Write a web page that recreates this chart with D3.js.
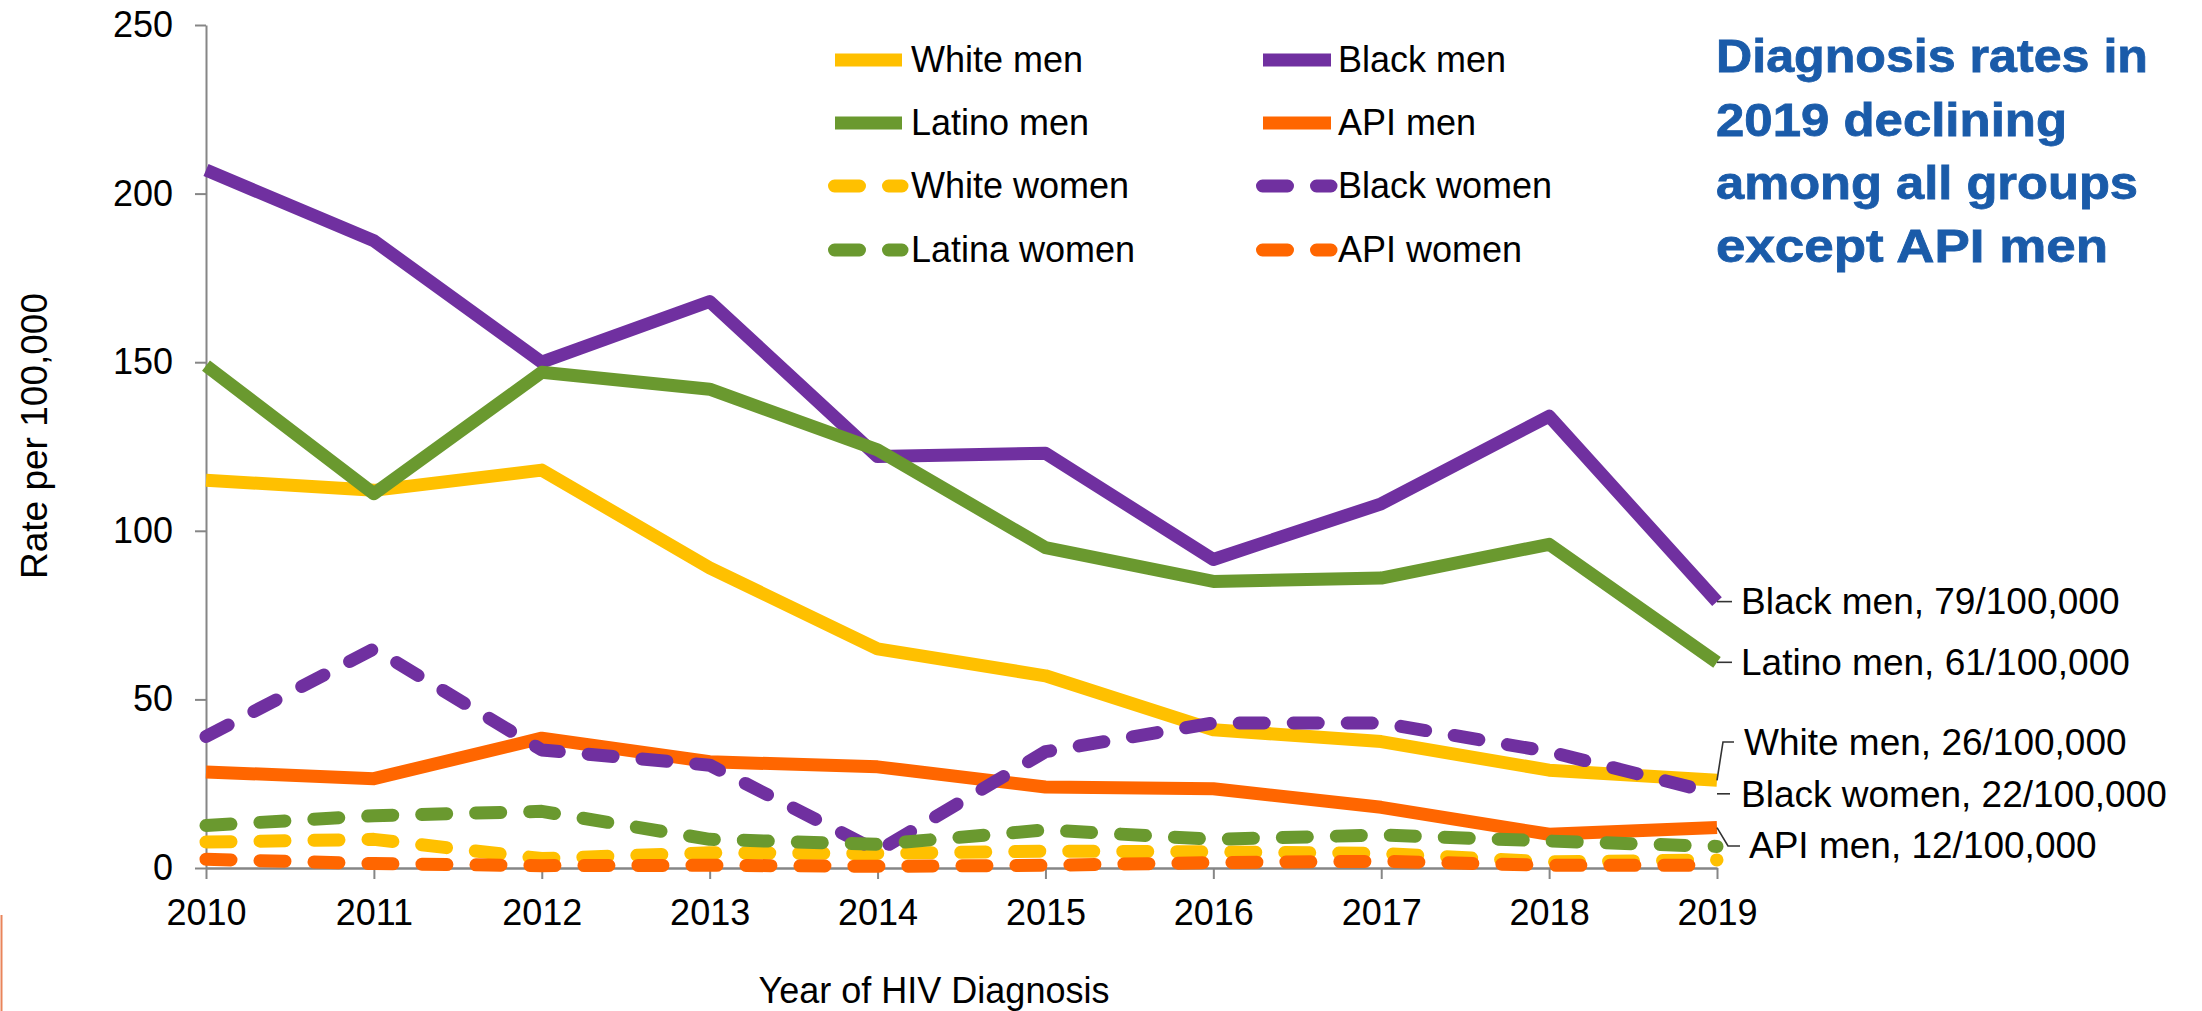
<!DOCTYPE html>
<html><head><meta charset="utf-8">
<script src="https://cdn.jsdelivr.net/npm/d3@7"></script>
<style>
body{margin:0;background:#fff;}
svg{display:block;}
text{font-family:"Liberation Sans",Arial,sans-serif;fill:#000;}
</style>
</head><body>
<svg id="chart" width="2202" height="1011"></svg>
<script>
// ---------- data ----------
const years = [2010, 2011, 2012, 2013, 2014, 2015, 2016, 2017, 2018, 2019];
const whiteMen    = [115, 112, 118, 89, 65, 57, 41, 37.5, 29, 26];
const blackMen    = [207, 186, 150, 168, 122, 123, 91.5, 108, 134, 79];
const latinoMen   = [149, 111, 147, 142, 124, 95, 85, 86, 96, 61];
const apiMen      = [28.5, 26.5, 38.5, 31.5, 30, 24, 23.5, 18, 10, 12];
const whiteWomen  = [7.7, 8.5, 2.8, 4.5, 4.3, 5, 4.8, 4.3, 1.8, 2.4];
const blackWomen  = [39, 65, 35, 30.5, 5, 34.5, 43, 43, 34.5, 22];
const latinaWomen = [12.6, 15.5, 16.8, 8.5, 7, 11.3, 8.5, 9.8, 8, 6.4];
const apiWomen    = [2.6, 1.3, 0.7, 0.8, 0.5, 0.8, 1.6, 2, 0.8, 0.8];

const seriesNames = ["White men", "Black men", "Latino men", "API men",
                     "White women", "Black women", "Latina women", "API women"];
const seriesValues = [whiteMen, blackMen, latinoMen, apiMen,
                      whiteWomen, blackWomen, latinaWomen, apiWomen];
const seriesColors = ["#FFC000", "#7030A0", "#6A992F", "#FF6600",
                      "#FFC000", "#7030A0", "#6A992F", "#FF6600"];
const seriesDashed = [false, false, false, false, true, true, true, true];

const yTicks = [0, 50, 100, 150, 200, 250];
const yTitle = "Rate per 100,000";
const xTitle = "Year of HIV Diagnosis";
const titleLines = ["Diagnosis rates in", "2019 declining", "among all groups", "except API men"];

// end labels: series index + text
const endLabelSeries = [1, 2, 0, 5, 3];
const endLabelTexts = ["Black men, 79/100,000", "Latino men, 61/100,000",
                       "White men, 26/100,000", "Black women, 22/100,000", "API men, 12/100,000"];

// ---------- layout ----------
const svg = d3.select("#chart");
const FS = 36;
const x = d3.scaleLinear().domain([2010, 2019]).range([206, 1717]);
const y = d3.scaleLinear().domain([0, 250]).range([868, 25]);
const axisColor = "#868686";

// decoration line bottom-left
svg.append("line").attr("x1", 1.5).attr("x2", 1.5).attr("y1", 915).attr("y2", 1011)
  .attr("stroke", "#E9845A").attr("stroke-width", 2);

// y axis
const gy = svg.append("g").attr("transform", "translate(206,0)")
  .call(d3.axisLeft(y).tickValues(yTicks).tickSize(11).tickSizeOuter(0).tickPadding(22));
gy.select(".domain").attr("stroke", axisColor).attr("stroke-width", 2);
gy.selectAll(".tick line").attr("stroke", axisColor).attr("stroke-width", 2);
gy.selectAll(".tick text").attr("font-size", FS).attr("font-family", "Liberation Sans, Arial, sans-serif").attr("fill", "#000");

// x axis
const gx = svg.append("g").attr("transform", "translate(0,868)")
  .call(d3.axisBottom(x).tickValues(years).tickFormat(d3.format("d")).tickSize(11).tickSizeOuter(0).tickPadding(20));
gx.select(".domain").attr("stroke", axisColor).attr("stroke-width", 2.5);
gx.selectAll(".tick line").attr("stroke", axisColor).attr("stroke-width", 2);
gx.selectAll(".tick text").attr("font-size", FS).attr("font-family", "Liberation Sans, Arial, sans-serif").attr("fill", "#000");

// axis titles
svg.append("text").attr("transform", "translate(47,436) rotate(-90)")
  .attr("text-anchor", "middle").attr("font-size", FS + 1).text(yTitle);
svg.append("text").attr("x", 934).attr("y", 1003)
  .attr("text-anchor", "middle").attr("font-size", FS).text(xTitle);

// lines
const line = d3.line().x((d, i) => x(years[i])).y(d => y(d));
const DASH = "25,29";
seriesValues.forEach((vals, k) => {
  const p = svg.append("path").datum(vals).attr("d", line)
    .attr("fill", "none").attr("stroke", seriesColors[k]).attr("stroke-width", 13);
  if (seriesDashed[k]) {
    p.attr("stroke-dasharray", DASH).attr("stroke-linecap", "round").attr("stroke-linejoin", "round");
  } else {
    p.attr("stroke-linecap", "butt").attr("stroke-linejoin", "round");
  }
});

// legend (two columns, four rows)
const legCols = [{x1: 835, x2: 902, tx: 911}, {x1: 1263, x2: 1331, tx: 1338}];
const legRows = [60, 123, 186, 250];
seriesNames.forEach((name, k) => {
  const col = legCols[k % 2], ry = legRows[Math.floor(k / 2)];
  const l = svg.append("line").attr("x1", col.x1).attr("x2", col.x2).attr("y1", ry).attr("y2", ry)
    .attr("stroke", seriesColors[k]).attr("stroke-width", 13);
  if (seriesDashed[k]) {
    l.attr("x1", col.x1 - 0.5).attr("stroke-dasharray", DASH).attr("stroke-linecap", "round");
  }
  svg.append("text").attr("x", col.tx).attr("y", ry + 12).attr("font-size", FS).text(name);
});

// end labels with leader lines
const endX = x(years[years.length - 1]);
const leaderShapes = [
  {bend: null, ly: null, xe: 1732, tx: 1741, ty: 614},
  {bend: null, ly: null, xe: 1732, tx: 1741, ty: 675},
  {bend: 1723, ly: 742, xe: 1734, tx: 1744, ty: 755},
  {bend: null, ly: null, xe: 1730, tx: 1741, ty: 807},
  {bend: 1728, ly: 846, xe: 1740, tx: 1749, ty: 858}
];
endLabelSeries.forEach((si, j) => {
  const vals = seriesValues[si];
  const ey = y(vals[vals.length - 1]);
  const s = leaderShapes[j];
  let pts;
  if (s.bend === null) pts = [[endX, ey], [s.xe, ey]];
  else pts = [[endX, ey], [s.bend, s.ly], [s.xe, s.ly]];
  svg.append("path").attr("d", d3.line()(pts)).attr("fill", "none")
    .attr("stroke", "#333").attr("stroke-width", 1.6);
  svg.append("text").attr("x", s.tx).attr("y", s.ty).attr("font-size", FS + 1).text(endLabelTexts[j]);
});

// title
const titleBase = [72, 136, 199, 262];
const titleWidths = [432, 351, 422, 392];
titleLines.forEach((t, i) => {
  svg.append("text").attr("x", 1716).attr("y", titleBase[i])
    .attr("font-family", "Lato, 'Open Sans', sans-serif").attr("font-weight", 900)
    .attr("font-size", 46)
    .attr("textLength", titleWidths[i]).attr("lengthAdjust", "spacingAndGlyphs")
    .style("fill", "#1A5BA9").style("stroke", "#1A5BA9").style("stroke-width", 0.8)
    .text(t);
});
</script>
</body></html>
